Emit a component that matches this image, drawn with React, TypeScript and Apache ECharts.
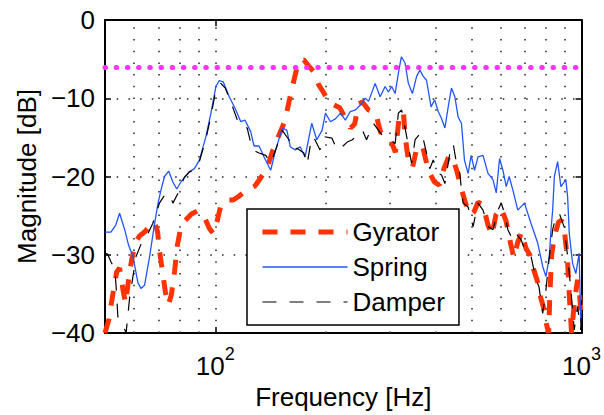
import React, { useEffect, useRef } from "react";
import * as echarts from "echarts";

const FONT = "'Liberation Sans', Arial, Helvetica, sans-serif";

// Frequency [Hz], Magnitude [dB]
const gyratorData: [number, number][] = [
  [50, -40], [51.2, -38.3], [52.5, -35.1], [53.8, -32.2], [54.8, -31.7], [56.0, -34.5], [56.9, -36.2], [58.0, -33.2],
  [59.1, -30.7], [60.6, -28.4], [62.1, -27.6], [64.1, -27.1], [66.2, -26.3], [68.3, -25.8], [69.6, -27.1], [70.4, -29.4],
  [71.8, -32.2], [73.1, -34.8], [74.5, -36.4], [75.9, -35.1], [77.4, -32.2], [78.8, -28.8], [80.3, -26.8], [82.9, -25.6],
  [86.1, -24.8], [89.4, -24.4], [92.8, -24.9], [96.3, -26.6], [98.8, -27.3], [101.3, -25.6], [103.8, -23.5], [107.8, -23.0],
  [111.9, -23.0], [116.2, -22.5], [122.2, -21.7], [128.4, -21.2], [133.4, -20.1], [138.5, -18.9], [143.8, -16.6], [149.3, -14.7],
  [155.0, -12.9], [158.9, -10.5], [162.9, -8.3], [167.1, -6.1], [170.7, -5.1], [174.5, -5.1], [180.0, -5.9], [185.8, -6.6],
  [191.7, -8.3], [197.8, -9.3], [204.1, -10.5], [212.0, -10.9], [218.7, -11.2], [225.6, -12.4], [234.2, -13.8], [240.2, -13.3],
  [246.3, -10.7], [252.5, -10.5], [262.1, -11.5], [273.8, -11.8], [282.5, -14.3], [289.7, -14.8], [300.8, -15.3], [310.4, -16.9],
  [318.2, -12.1], [326.3, -11.8], [330.4, -15.1], [336.7, -17.9], [345.3, -18.9], [354.0, -16.6], [367.5, -16.0], [381.6, -19.2],
  [396.2, -20.7], [408.7, -21.1], [421.7, -18.9], [435.2, -17.3], [446.2, -17.9], [457.5, -19.4], [469.1, -21.5], [484.0, -23.6],
  [496.3, -24.9], [508.8, -24.5], [521.7, -23.3], [538.3, -23.6], [555.4, -26.2], [569.4, -27.5], [583.9, -24.9], [602.4, -24.0],
  [621.5, -25.6], [637.2, -28.1], [653.3, -30.4], [669.8, -28.4], [686.8, -27.1], [704.2, -29.1], [722.0, -30.0], [740.4, -31.9],
  [759.2, -33.5], [773.6, -35.5], [788.3, -36.8], [803.2, -39.0], [813.3, -40], [818.4, -35.8], [828.8, -30.0], [844.4, -27.5],
  [865.9, -25.8], [882.3, -25.6], [898.9, -27.1], [916.2, -30.9], [927.6, -35.8], [939.3, -40], [957.2, -35.8], [975.2, -33.2],
  [987.6, -35.1], [1000, -38.3],
];

const springData: [number, number][] = [
  [50, -27.1], [51.9, -27.1], [53.5, -26.2], [54.8, -24.7], [56.6, -26.8], [58.0, -28.8], [59.6, -30.2], [61.5, -33.6],
  [62.7, -34.3], [64.1, -33.9], [66.2, -30.2], [68.3, -26.0], [69.8, -23.4], [71.1, -21.7], [72.7, -20.0], [74.6, -19.3],
  [76.6, -20.7], [78.5, -21.6], [80.6, -20.7], [82.4, -20.1], [85.0, -19.4], [87.7, -19.0], [90.5, -17.9], [94.3, -14.9],
  [97.3, -11.9], [100.4, -8.5], [102.5, -7.75], [105.1, -7.9], [109.2, -9.8], [113.8, -11.5], [117.4, -13.0], [120.6, -12.8],
  [125.0, -14.3], [127.6, -16.1], [131.7, -16.1], [135.9, -17.5], [141.7, -19.2], [146.2, -16.6], [152.4, -13.8], [156.9, -14.1],
  [160.3, -16.2], [165.3, -16.6], [170.5, -16.2], [175.9, -17.5], [183.4, -13.2], [189.3, -15.3], [195.7, -14.1], [199.9, -11.9],
  [206.3, -13.0], [213.1, -12.6], [219.8, -11.9], [226.6, -12.8], [233.7, -11.7], [241.3, -11.5], [248.5, -10.9], [256.8, -10.0],
  [262.1, -10.4], [273.2, -8.1], [281.9, -9.8], [290.9, -8.5], [297.0, -9.2], [303.2, -8.5], [309.8, -9.4], [316.2, -6.8],
  [322.2, -4.7], [329.7, -5.5], [336.7, -8.1], [345.3, -9.4], [354.6, -7.2], [361.8, -6.4], [369.8, -7.2], [377.4, -7.7],
  [388.3, -11.1], [397.3, -10.2], [406.2, -11.7], [414.7, -12.6], [423.6, -13.8], [432.5, -11.1], [441.4, -8.7], [450.9, -9.8],
  [460.4, -12.4], [470.0, -13.2], [479.0, -17.9], [490.1, -19.6], [499.7, -17.3], [510.3, -19.2], [521.7, -17.5], [538.3, -17.3],
  [555.4, -19.6], [573.0, -20.4], [585.0, -22.1], [597.3, -17.7], [610.0, -19.2], [622.8, -21.3], [634.6, -20.0], [649.2, -21.7],
  [669.8, -24.3], [698.5, -23.4], [728.0, -26.0], [759.2, -28.5], [783.4, -31.5], [799.5, -32.8], [816.8, -30.2], [825.3, -26.8],
  [834.0, -24.3], [843.0, -20.0], [860.5, -18.1], [878.4, -21.3], [906.0, -20.4], [916.2, -22.6], [926.0, -27.3], [945.2, -31.1],
  [964.8, -32.4], [985.1, -29.8], [995.0, -38.7], [1000, -35.8],
];

const damperData: [number, number][] = [
  [50, -29.8], [50.8, -29.9], [51.9, -30.9], [53.2, -31.9], [53.7, -34.5], [54.2, -37.9], [55.5, -38.6], [57.1, -40],
  [58.4, -35.4], [59.6, -32.8], [60.8, -30.2], [63.4, -28.1], [65.5, -27.3], [67.5, -26.0], [68.9, -24.7], [70.4, -23.4],
  [72.7, -22.4], [75.0, -22.2], [76.6, -23.4], [79.0, -22.2], [80.6, -21.1], [82.4, -20.1], [85.0, -19.4], [87.7, -19.2],
  [90.5, -18.1], [94.3, -15.2], [97.3, -12.3], [100.4, -8.9], [103.6, -8.1], [106.5, -8.7], [110.5, -10.6], [116.2, -13.4],
  [118.6, -13.6], [122.2, -13.8], [126.3, -16.6], [129.0, -16.8], [131.7, -17.0], [137.4, -17.3], [141.7, -18.3], [146.2, -16.6],
  [152.4, -14.1], [158.9, -15.3], [162.2, -16.6], [167.1, -16.4], [174.5, -17.0], [178.1, -18.5], [183.4, -14.9], [187.2, -15.3],
  [193.2, -16.6], [197.8, -14.9], [208.3, -15.1], [215.0, -16.6], [222.1, -16.2], [229.3, -15.6], [236.8, -15.3], [252.3, -14.1],
  [258.8, -15.3], [270.4, -13.2], [279.0, -14.1], [287.9, -14.9], [299.6, -15.3], [309.8, -15.8], [316.2, -11.9], [322.8, -11.5],
  [333.1, -14.9], [343.5, -18.3], [351.3, -15.3], [365.9, -14.3], [377.4, -17.0], [385.2, -19.0], [393.7, -17.9], [406.2, -19.6],
  [414.7, -19.8], [423.6, -20.9], [437.0, -17.0], [446.2, -15.8], [455.6, -18.3], [465.2, -19.6], [470.0, -21.7], [475.0, -23.4],
  [490.1, -23.9], [505.7, -26.4], [521.7, -23.4], [538.3, -24.3], [555.4, -26.4], [573.0, -26.8], [591.2, -24.3], [603.7, -23.4],
  [616.4, -24.7], [629.3, -26.8], [649.2, -28.1], [662.9, -27.3], [684.0, -28.1], [705.6, -29.8], [728.0, -30.2], [751.3, -33.2],
  [765.3, -34.1], [783.4, -37.5], [799.5, -34.5], [816.8, -30.2], [834.0, -26.8], [851.4, -25.1], [869.4, -24.7], [896.1, -26.4],
  [916.2, -30.2], [935.4, -34.5], [955.2, -39.6], [975.2, -36.6], [995.0, -39.6], [1000, -35.8],
];

const thresholdDb = -6;
const gridFreqs = [60, 70, 80, 90, 100, 200, 300, 400, 500, 600, 700, 800, 900];
const xRange = [50, 1000];
const yRange = [-40, 0];
const seriesNames = ["Gyrator", "Spring", "Damper"];

export default function App() {
  const ref = useRef<HTMLDivElement>(null);
  useEffect(() => {
    if (!ref.current) return;
    const chart = echarts.init(ref.current, null, { renderer: "svg" });
    const dotted = { color: "#222", width: 1.5, type: [1.5, 10.2] as number[] };
    const isPow10 = (v: number) => {
      const l = Math.log10(v);
      return v >= 99 && Math.abs(l - Math.round(l)) < 1e-6;
    };
    const frame = { show: true, onZero: false, lineStyle: { color: "#000", width: 2 } };
    const tick = { show: true, inside: true, length: 6, lineStyle: { color: "#000", width: 1.5 } };
    chart.setOption({
      animation: false,
      backgroundColor: "#fff",
      textStyle: { fontFamily: FONT },
      grid: { left: 105, right: 20, top: 20, bottom: 82, containLabel: false },
      legend: {
        orient: "vertical",
        left: 247,
        top: 209,
        padding: [10, 14, 10, 13],
        itemWidth: 85,
        itemHeight: 14,
        itemGap: 9,
        backgroundColor: "#fff",
        borderColor: "#000",
        borderWidth: 1.5,
        borderRadius: 0,
        z: 6,
        data: seriesNames,
        lineStyle: { width: "inherit" },
        itemStyle: { opacity: 0 },
        textStyle: { fontSize: 26, lineHeight: 26, color: "#000", fontFamily: FONT },
      },
      xAxis: [
        {
          type: "log",
          logBase: 10,
          min: xRange[0],
          max: xRange[1],
          position: "bottom",
          axisLine: frame,
          axisTick: tick,
          splitLine: { show: false },
          axisLabel: {
            margin: 20,
            formatter: (v: number) => (isPow10(v) ? "{b|10}{s|" + Math.round(Math.log10(v)) + "}" : ""),
            rich: {
              b: { fontSize: 26, lineHeight: 26, verticalAlign: "bottom", color: "#000", fontFamily: FONT },
              s: { fontSize: 18, lineHeight: 18, padding: [0, 0, 16, 0], verticalAlign: "bottom", color: "#000", fontFamily: FONT },
            },
            color: "#000",
            fontFamily: FONT,
          },
          name: "Frequency [Hz]",
          nameLocation: "middle",
          nameGap: 51,
          nameTextStyle: { fontSize: 26, color: "#000", fontFamily: FONT },
        },
        {
          type: "log",
          logBase: 10,
          min: xRange[0],
          max: xRange[1],
          position: "top",
          axisLine: frame,
          axisTick: tick,
          axisLabel: { show: false },
          splitLine: { show: false },
        },
      ],
      yAxis: [
        {
          type: "value",
          min: yRange[0],
          max: yRange[1],
          interval: 10,
          position: "left",
          axisLine: frame,
          axisTick: tick,
          splitLine: { show: true, lineStyle: dotted },
          axisLabel: {
            margin: 10,
            fontSize: 26,
            color: "#000",
            fontFamily: FONT,
            formatter: (v: number) => (v < 0 ? "\u2212" + -v : String(v)),
          },
          name: "Magnitude [dB]",
          nameLocation: "middle",
          nameGap: 62,
          nameTextStyle: { fontSize: 26, color: "#000", fontFamily: FONT },
        },
        {
          type: "value",
          min: yRange[0],
          max: yRange[1],
          interval: 10,
          position: "right",
          axisLine: frame,
          axisTick: tick,
          axisLabel: { show: false },
          splitLine: { show: false },
        },
      ],
      series: [
        {
          name: "Gyrator",
          type: "line",
          data: gyratorData,
          symbol: "none",
          z: 2,
          lineStyle: { color: "#ff3300", width: 5, type: [15, 13] },
          itemStyle: { color: "#ff3300" },
          markLine: {
            silent: true,
            z: 1,
            symbol: ["none", "none"],
            label: { show: false },
            lineStyle: dotted,
            data: gridFreqs.map((f) => ({ xAxis: f })),
          },
        },
        {
          name: "Spring",
          type: "line",
          data: springData,
          symbol: "none",
          z: 3,
          lineStyle: { color: "#2255ff", width: 1.3 },
          itemStyle: { color: "#2255ff" },
        },
        {
          name: "Damper",
          type: "line",
          data: damperData,
          symbol: "none",
          z: 4,
          lineStyle: { color: "#000", width: 1.2, type: [14, 13] },
          itemStyle: { color: "#000" },
          markLine: {
            silent: true,
            z: 10,
            symbol: ["none", "none"],
            label: { show: false },
            lineStyle: { color: "#ff33ff", width: 5, type: [0.5, 10.7], cap: "round" },
            data: [{ yAxis: thresholdDb }],
          },
        },
      ],
    });
    return () => chart.dispose();
  }, []);
  return <div ref={ref} style={{ position: "absolute", left: 0, top: 0, width: 604, height: 415 }} />;
}
